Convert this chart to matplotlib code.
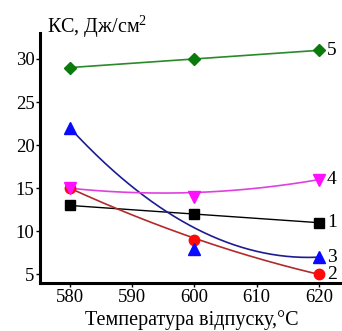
import numpy as np
import matplotlib
matplotlib.use("Agg")
import matplotlib.pyplot as plt

plt.rcParams['font.family'] = ['Liberation Serif', 'DejaVu Serif']
plt.rcParams['mathtext.fontset'] = 'custom'
plt.rcParams['mathtext.rm'] = 'Liberation Serif'
plt.rcParams['mathtext.it'] = 'Liberation Serif:italic'
plt.rcParams['mathtext.bf'] = 'Liberation Serif:bold'

temps = [580, 600, 620]
s1 = [13, 12, 11]
s2 = [15, 9, 5]
s3 = [22, 8, 7]
s4 = [15, 14, 16]
s5 = [29, 30, 31]
# trend (fit) line values
fit2 = [15, 9.2, 5]
fit3 = [22, 10.4, 7]
fit4 = [15, 14.5, 16]
labels = ['1', '2', '3', '4', '5']

fig = plt.figure(figsize=(3.42, 3.31), dpi=100)
ax = fig.add_axes([0.117, 0.145, 0.883, 0.755])

xs = np.linspace(580, 620, 200)

def curve(vals):
    c = np.polyfit(temps, vals, 2)
    return np.polyval(c, xs)

ax.plot(temps, s5, color='#2a8a2a', lw=1.2, zorder=2)
ax.plot(temps, s5, ls='none', marker='D', ms=6.5, color='#0a7a0a', zorder=3)
ax.plot(temps, s1, color='black', lw=1.0, zorder=2)
ax.plot(temps, s1, ls='none', marker='s', ms=6.5, color='black', zorder=3)
ax.plot(xs, curve(fit2), color='#b22a2a', lw=1.2, zorder=2)
ax.plot(temps, s2, ls='none', marker='o', ms=7.5, color='#ff0a0a', zorder=3)
ax.plot(xs, curve(fit3), color='#1c1c90', lw=1.2, zorder=2)
ax.plot(temps, s3, ls='none', marker='^', ms=8, color='#0a0aff', zorder=3)
ax.plot(xs, curve(fit4), color='#e040e0', lw=1.2, zorder=2)
ax.plot(temps, s4, ls='none', marker='v', ms=8, color='#ff10ff', zorder=3)

ends = [s1[-1], s2[-1], s3[-1], s4[-1], s5[-1]]
for lab, v in zip(labels, ends):
    ax.text(621.3, v, lab, fontsize=14, va='center', ha='left')

ax.set_xlim(575.2, 623.7)
ax.set_ylim(4, 33)
ax.set_xticks([580, 590, 600, 610, 620])
ax.set_yticks([5, 10, 15, 20, 25, 30])
ax.tick_params(labelsize=13.5, length=3, width=1, direction='out', pad=1)
for s in ['top', 'right']:
    ax.spines[s].set_visible(False)
for s in ['left', 'bottom']:
    ax.spines[s].set_linewidth(2.2)

fig.text(0.562, 0.004, 'Температура відпуску,°C', fontsize=14.5, ha='center', va='bottom')
fig.text(0.138, 0.9, 'КС, Дж/см$^{\\mathrm{2}}$', fontsize=14.5, ha='left', va='baseline')

fig.savefig('out.png', dpi=100)
